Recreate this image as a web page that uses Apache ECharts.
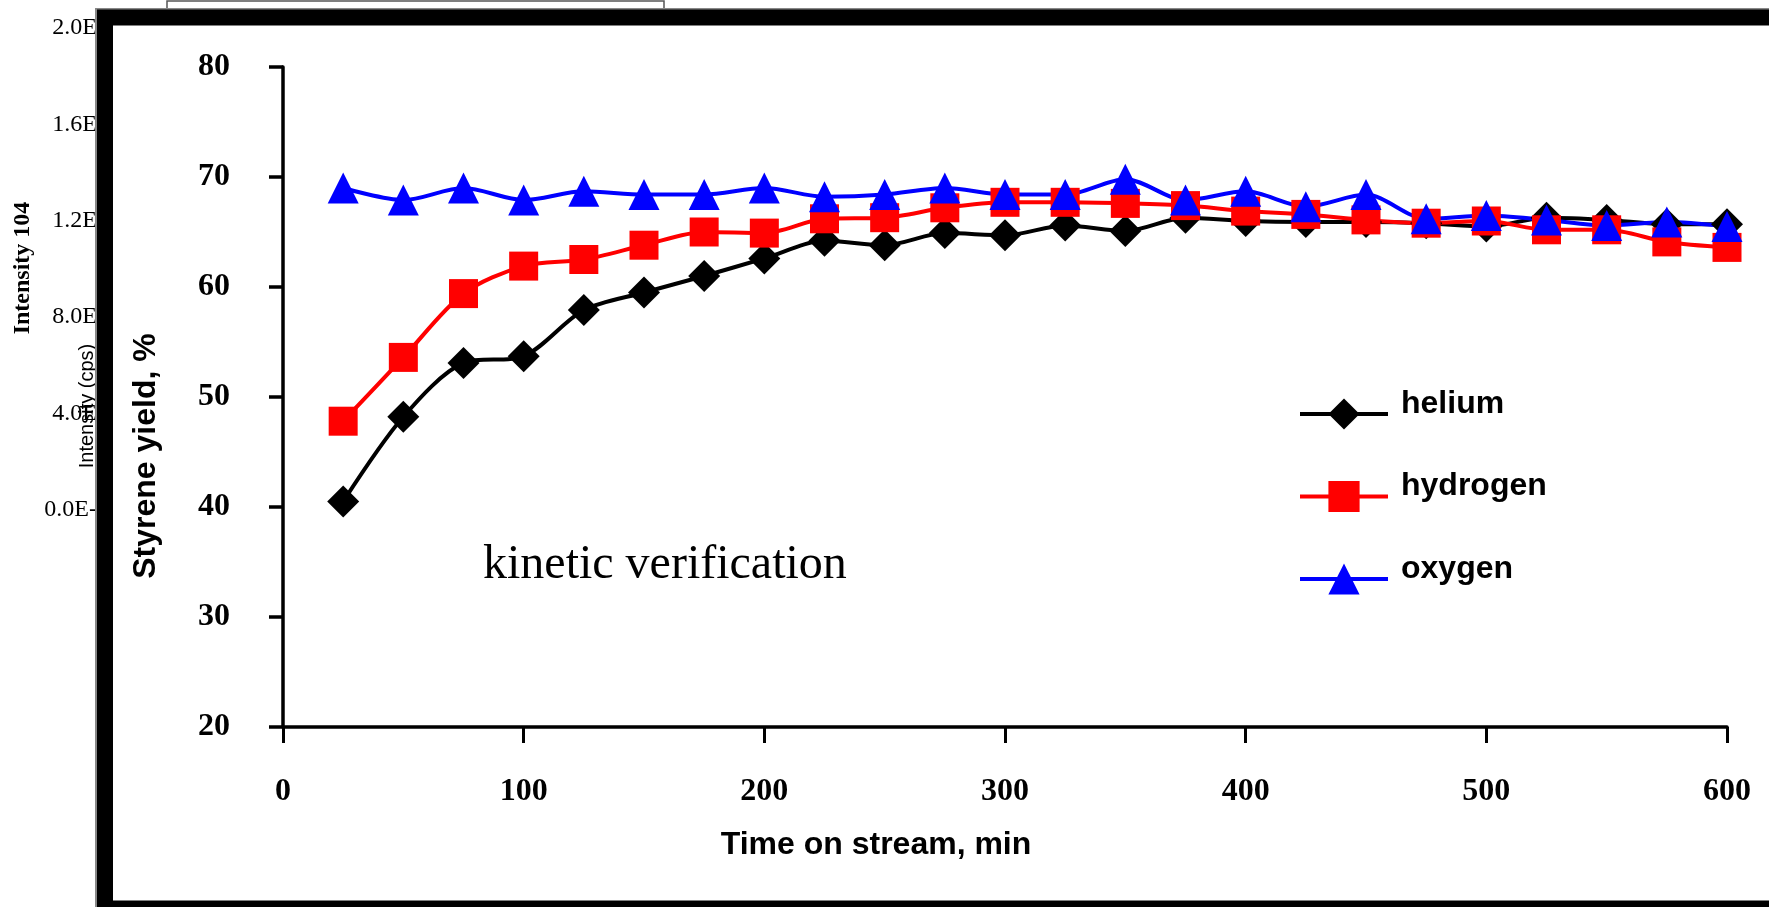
<!DOCTYPE html>
<html>
<head>
    <meta charset="UTF-8">
    <title>Styrene yield</title>
    <script src="https://cdn.jsdelivr.net/npm/echarts@6/dist/echarts.min.js"></script>
    <style>
        html, body { margin: 0; padding: 0; background: #fff; }
        #chart { width: 1769px; height: 907px; }
    </style>
</head>
<body>
<div id="chart"></div>
<script>
    // time on stream, min
    var timeMin = [25, 50, 75, 100, 125, 150, 175, 200, 225, 250, 275, 300,
                   325, 350, 375, 400, 425, 450, 475, 500, 525, 550, 575, 600];
    // styrene yield, %
    var helium   = [40.5, 48.2, 53.1, 53.7, 57.9, 59.5, 61.0, 62.6, 64.2, 63.8, 64.9, 64.7,
                    65.6, 65.1, 66.3, 66.0, 65.9, 65.9, 65.8, 65.5, 66.3, 66.1, 65.7, 65.7];
    var hydrogen = [47.8, 53.6, 59.4, 61.9, 62.5, 63.8, 65.0, 64.9, 66.2, 66.3, 67.2, 67.7,
                    67.7, 67.6, 67.4, 66.9, 66.6, 66.1, 65.8, 66.0, 65.2, 65.2, 64.1, 63.6];
    var oxygen   = [69.0, 67.9, 69.0, 67.9, 68.7, 68.4, 68.4, 69.0, 68.2, 68.4, 69.0, 68.4,
                    68.4, 69.8, 67.9, 68.7, 67.3, 68.4, 66.2, 66.5, 66.1, 65.6, 65.9, 65.5];

    // labels of the intensity chart sitting behind (bottom to top)
    var ghostLabels = ['0.0E-', '4.0E', '8.0E', '1.2E', '1.6E', '2.0E'];

    function pairs(ys) {
        return ys.map(function (y, i) { return [timeMin[i], y]; });
    }

    var serif = "'Liberation Serif', 'Times New Roman', serif";
    var sans = "'Liberation Sans', Arial, sans-serif";

    var chart = echarts.init(document.getElementById('chart'));

    var option = {
        animation: false,
        backgroundColor: '#fff',
        grid: [
            { left: 283, right: 42, top: 67, bottom: 180 },
            // narrow grid for the half-hidden intensity axis on the left
            { left: 100, width: 10, top: 28, height: 482 }
        ],
        xAxis: [
            {
                type: 'value', gridIndex: 0,
                min: 0, max: 600, interval: 100,
                axisLine: { show: true, lineStyle: { color: '#000', width: 3.5 } },
                axisTick: { show: true, length: 16, lineStyle: { color: '#000', width: 3 } },
                axisLabel: { margin: 49, color: '#000', fontFamily: serif, fontWeight: 'bold', fontSize: 32 },
                splitLine: { show: false }
            },
            { type: 'value', gridIndex: 1, show: false }
        ],
        yAxis: [
            {
                type: 'value', gridIndex: 0,
                min: 20, max: 80, interval: 10,
                axisLine: { show: true, lineStyle: { color: '#000', width: 3.5 } },
                axisTick: { show: true, length: 14, lineStyle: { color: '#000', width: 3.5 } },
                axisLabel: { margin: 53, color: '#000', fontFamily: serif, fontWeight: 'bold', fontSize: 32 },
                splitLine: { show: false }
            },
            {
                type: 'value', gridIndex: 1,
                min: 0, max: 2.0, interval: 0.4,
                axisLine: { show: false },
                axisTick: { show: false },
                splitLine: { show: false },
                axisLabel: {
                    margin: 3, color: '#000', fontFamily: serif, fontSize: 24,
                    formatter: function (v, i) { return ghostLabels[i]; }
                }
            }
        ],
        legend: {
            orient: 'vertical',
            left: 1298,
            top: 388,
            padding: 0,
            itemWidth: 88,
            itemHeight: 39,
            itemGap: 30.5,
            data: ['helium', 'hydrogen', 'oxygen'],
            lineStyle: { width: 4 },
            formatter: '{t|{name}}',
            textStyle: {
                color: '#000',
                rich: {
                    t: {
                        color: '#000', fontFamily: sans, fontWeight: 'bold', fontSize: 32,
                        lineHeight: 32, padding: [0, 0, 20, 8]
                    }
                }
            }
        },
        series: [
            {
                name: 'helium', type: 'line', smooth: 0.3,
                data: pairs(helium),
                symbol: 'diamond', symbolSize: 32,
                lineStyle: { color: '#000', width: 4 },
                itemStyle: { color: '#000' }
            },
            {
                name: 'hydrogen', type: 'line', smooth: 0.3,
                data: pairs(hydrogen),
                symbol: 'rect', symbolSize: 29,
                lineStyle: { color: '#ff0000', width: 4 },
                itemStyle: { color: '#ff0000' }
            },
            {
                name: 'oxygen', type: 'line', smooth: 0.3,
                data: pairs(oxygen),
                symbol: 'triangle', symbolSize: 31,
                lineStyle: { color: '#0000ff', width: 4 },
                itemStyle: { color: '#0000ff' }
            }
        ],
        graphic: [
            // box peeking out above the frame
            {
                type: 'rect', z: 50,
                shape: { x: 167, y: 1, width: 497, height: 15 },
                style: { fill: '#fff', stroke: '#555', lineWidth: 1.5 }
            },
            {
                type: 'text', z: 40,
                x: 23, y: 268, rotation: Math.PI / 2,
                style: {
                    text: 'Intensity 104', fill: '#000',
                    font: 'bold 24px ' + serif,
                    align: 'center', verticalAlign: 'middle',
                    textAlign: 'center', textVerticalAlign: 'middle'
                }
            },
            {
                type: 'text', z: 40,
                x: 87, y: 406, rotation: Math.PI / 2,
                style: {
                    text: 'Intensity (cps)', fill: '#000',
                    font: '20px ' + sans,
                    align: 'center', verticalAlign: 'middle',
                    textAlign: 'center', textVerticalAlign: 'middle'
                }
            },
            // thick black frame around the yield chart
            {
                type: 'rect', z: 60,
                shape: { x: 96, y: 9, width: 1800, height: 1000 },
                style: { fill: null, stroke: '#888', lineWidth: 2 }
            },
            {
                type: 'rect', z: 61,
                shape: { x: 105, y: 17.5, width: 1800, height: 891 },
                style: { fill: null, stroke: '#000', lineWidth: 16 }
            },
            {
                type: 'text', z: 70,
                x: 146, y: 456, rotation: Math.PI / 2,
                style: {
                    text: 'Styrene yield, %', fill: '#000',
                    font: 'bold 32px ' + sans,
                    align: 'center', verticalAlign: 'middle',
                    textAlign: 'center', textVerticalAlign: 'middle'
                }
            },
            {
                type: 'text', z: 70,
                x: 876, y: 845,
                style: {
                    text: 'Time on stream, min', fill: '#000',
                    font: 'bold 32px ' + sans,
                    align: 'center', verticalAlign: 'middle',
                    textAlign: 'center', textVerticalAlign: 'middle'
                }
            },
            {
                type: 'text', z: 70,
                x: 483, y: 565,
                style: {
                    text: 'kinetic verification', fill: '#000',
                    font: '48px ' + serif,
                    align: 'left', verticalAlign: 'middle',
                    textAlign: 'left', textVerticalAlign: 'middle'
                }
            }
        ]
    };

    chart.setOption(option);
</script>
</body>
</html>
